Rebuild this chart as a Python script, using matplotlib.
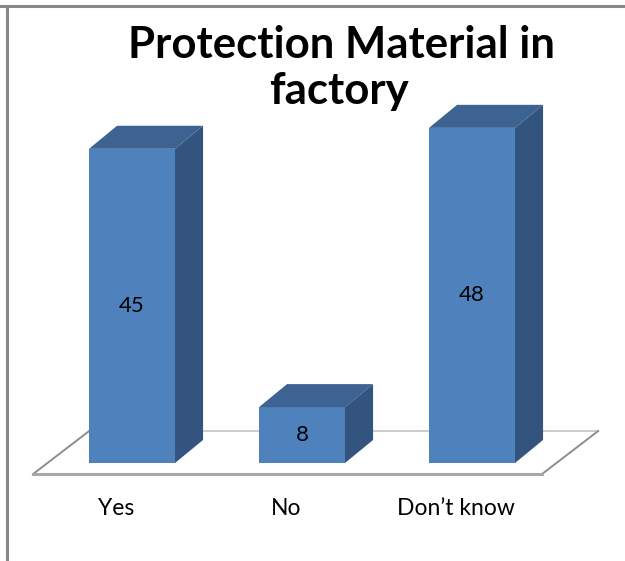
import matplotlib

matplotlib.use("Agg")

import matplotlib.pyplot as plt
from matplotlib.lines import Line2D
from matplotlib.patches import Polygon

categories = ["Yes", "No", "Don\u2019t know"]
counts = [45, 8, 48]
title_lines = ["Protection Material in", "factory"]

FRONT = "#4f81bd"
TOP = "#3d6392"
SIDE = "#32547e"

BAR_W = 0.506
DEPTH_X = 0.165  # box depth, category units
DEPTH_Y = 3.3    # box depth, value units

plt.rcParams["font.family"] = ["Lato", "DejaVu Sans"]

fig = plt.figure(figsize=(6.25, 5.61), dpi=100)
ax = fig.add_axes([30 / 625, 98 / 561, 544 / 625, 384 / 561])
ax.set_xlim(-0.6, 2.6)
ax.set_ylim(0, 55)
ax.axis("off")

# floor plate under the boxes
fl, fr = -0.582, 2.412
fy0, fy1 = -1.58, 4.58
fdx = 2 * DEPTH_X
ax.plot([fl + fdx, fr + fdx], [fy1, fy1], color="#c4c4c4", lw=1.2, zorder=1, clip_on=False)
ax.plot([fl, fl + fdx], [fy0, fy1], color="#8e8e8e", lw=1.4, zorder=1, clip_on=False)
ax.plot([fr, fr + fdx], [fy0, fy1], color="#8e8e8e", lw=1.4, zorder=1, clip_on=False)
ax.plot([fl, fr], [fy0, fy0], color="#a8a8a8", lw=2.2, zorder=1, clip_on=False)

xs = list(range(len(categories)))
ax.bar(xs, counts, width=BAR_W, color=FRONT, zorder=3, clip_on=False)
for x, v in zip(xs, counts):
    left, right = x - BAR_W / 2, x + BAR_W / 2
    top = Polygon([(left, v), (right, v), (right + DEPTH_X, v + DEPTH_Y),
                   (left + DEPTH_X, v + DEPTH_Y)],
                  closed=True, facecolor=TOP, edgecolor="none", zorder=3, clip_on=False)
    side = Polygon([(right, 0), (right + DEPTH_X, DEPTH_Y), (right + DEPTH_X, v + DEPTH_Y),
                    (right, v)],
                   closed=True, facecolor=SIDE, edgecolor="none", zorder=3, clip_on=False)
    ax.add_patch(top)
    ax.add_patch(side)
    ax.text(x, v / 2, str(v), ha="center", va="center", fontsize=16, color="black", zorder=5)
    ax.annotate(categories[x], (x, 0), xytext=(-11.5, -32.5), textcoords="offset points",
                ha="center", va="center", fontsize=16.5, color="black",
                annotation_clip=False)

fig.text(0.546, 1 - 58 / 561, title_lines[0], ha="center", va="baseline",
         fontsize=31.5, fontweight="bold")
fig.text(0.543, 1 - 104 / 561, title_lines[1], ha="center", va="baseline",
         fontsize=31.5, fontweight="bold")

# chart area border (top and left edges)
fig.add_artist(Line2D([0, 1], [1 - 5.5 / 561] * 2, color="#878787", lw=2.2,
                      transform=fig.transFigure))
fig.add_artist(Line2D([6.5 / 625] * 2, [0, 1 - 5.5 / 561], color="#878787", lw=2.2,
                      transform=fig.transFigure))

fig.savefig("out.png", dpi=100, facecolor="white")
